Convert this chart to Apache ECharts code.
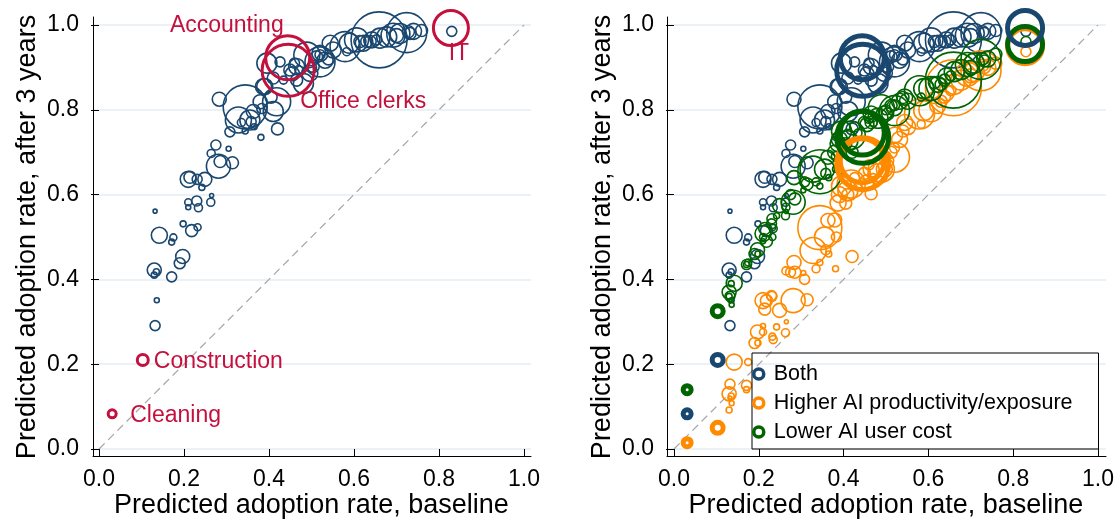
<!DOCTYPE html>
<html><head><meta charset="utf-8">
<script src="https://cdn.jsdelivr.net/npm/echarts@6/dist/echarts.min.js"></script>
<style>html,body{margin:0;padding:0;background:#fff}#c{width:1116px;height:519px}</style>
</head><body><div id="c"></div>
<script>
// ---- occupation-level data ----
const baseline = [0.132,0.136,0.171,0.130,0.135,0.130,0.190,0.197,0.142,0.175,0.171,0.218,0.232,0.198,0.132,0.230,0.234,0.210,0.210,0.263,0.265,0.210,0.214,0.231,0.249,0.242,0.281,0.285,0.314,0.264,0.275,0.305,0.381,0.283,0.344,0.355,0.358,0.365,0.308,0.344,0.420,0.379,0.383,0.410,0.418,0.405,0.390,0.328,0.363,0.335,0.395,0.426,0.387,0.449,0.465,0.489,0.481,0.512,0.520,0.532,0.504,0.496,0.465,0.434,0.460,0.470,0.500,0.455,0.520,0.540,0.410,0.579,0.583,0.589,0.614,0.630,0.642,0.659,0.661,0.692,0.724,0.732,0.759,0.551,0.520,0.544,0.606,0.622,0.638,0.653,0.677,0.708,0.728,0.830,0.700,0.740];
const weight   = [5,2.5,5,7,3,3,5.5,7,8,3.5,3,6,3.5,3,2,5,4,3.5,2.5,4,2,8,6,5,7,3,12,6,6,4,5,2.5,3,7,22,10,5,3,5,3,6,7,5,10,14,6,8,13,7,4,10,5,8,6,8,13,10,6,15,8,6,8,6,4,5,4,5,7,5,6,6,15,4,10,6,6,8,28,10,12,20,6,6,8,8,8,12,8,6,5,10,10,6,5,7,8];
const after3Both = [0.291,0.351,0.406,0.422,0.418,0.410,0.438,0.454,0.504,0.499,0.488,0.515,0.523,0.531,0.561,0.585,0.569,0.582,0.570,0.582,0.598,0.636,0.641,0.636,0.636,0.617,0.667,0.678,0.675,0.697,0.717,0.708,0.735,0.825,0.807,0.776,0.772,0.760,0.748,0.750,0.755,0.819,0.803,0.796,0.819,0.830,0.855,0.776,0.796,0.770,0.910,0.913,0.855,0.894,0.902,0.929,0.862,0.925,0.913,0.917,0.902,0.886,0.870,0.870,0.910,0.895,0.900,0.885,0.930,0.920,0.875,0.949,0.937,0.957,0.961,0.961,0.965,0.965,0.969,0.976,0.982,0.980,0.987,0.941,0.933,0.957,0.965,0.957,0.961,0.965,0.972,0.980,0.984,0.985,0.975,0.985];
const after3Cost = [0.36,0.34,0.435,0.37,0.39,0.36,0.46,0.47,0.391,0.44,0.435,0.49,0.50,0.46,0.35,0.531,0.52,0.50,0.49,0.55,0.56,0.508,0.52,0.543,0.574,0.55,0.582,0.59,0.625,0.57,0.60,0.61,0.66,0.64,0.654,0.66,0.65,0.64,0.63,0.62,0.70,0.70,0.69,0.727,0.74,0.72,0.73,0.66,0.688,0.63,0.75,0.76,0.72,0.77,0.79,0.805,0.78,0.81,0.798,0.82,0.79,0.79,0.77,0.745,0.78,0.77,0.80,0.765,0.81,0.829,0.74,0.845,0.83,0.85,0.864,0.86,0.88,0.87,0.89,0.907,0.919,0.915,0.931,0.82,0.805,0.83,0.85,0.86,0.87,0.88,0.895,0.91,0.92,0.961,0.90,0.92];
const after3Prod = [0.153,0.108,0.15,0.13,0.125,0.092,0.25,0.276,0.205,0.205,0.14,0.35,0.265,0.25,0.12,0.362,0.258,0.276,0.29,0.274,0.30,0.35,0.33,0.36,0.327,0.288,0.35,0.417,0.352,0.42,0.417,0.415,0.425,0.44,0.522,0.50,0.47,0.46,0.40,0.44,0.454,0.54,0.50,0.609,0.625,0.58,0.60,0.468,0.539,0.425,0.62,0.64,0.58,0.65,0.66,0.66,0.649,0.70,0.688,0.73,0.68,0.66,0.602,0.62,0.67,0.64,0.69,0.63,0.71,0.75,0.60,0.79,0.766,0.798,0.829,0.82,0.84,0.852,0.86,0.884,0.892,0.90,0.91,0.76,0.74,0.77,0.80,0.81,0.83,0.845,0.87,0.89,0.905,0.937,0.88,0.90];

// ---- highlighted occupations ----
const hlNames    = ['Cleaning','Construction','Accounting','Office clerks','IT'];
const hlBaseline = [0.031,0.103,0.444,0.445,0.828];
const hlWeight   = [4,5.5,22,26,17.5];
const hlBoth     = [0.083,0.21,0.923,0.893,0.993];
const hlCost     = [0.14,0.325,0.745,0.735,0.955];
const hlProd     = [0.015,0.05,0.68,0.673,0.95];

const diagonal = [0, 1];
const tickValues = [0, 0.2, 0.4, 0.6, 0.8, 1.0];
const legendNames = ['Both','Higher AI productivity/exposure','Lower AI user cost'];

// ---- styles ----
const FONT = "'Liberation Sans', Arial, Helvetica, sans-serif";
const NAVY = '#1a476f', ORANGE = '#ff8a00', GREEN = '#006400', RED = '#c3103d';
const GRIDC = '#e4edf0';
const labelPos = {
  'Accounting':   {align:'right', offset:[-4,-32]},
  'Office clerks':{align:'left',  offset:[12,31]},
  'IT':           {align:'center',offset:[8,26]},
  'Construction': {align:'left',  offset:[11,2]},
  'Cleaning':     {align:'left',  offset:[18,2]}
};

function pts(xs, ys, ws){ return xs.map((x,i)=>[x, ys[i], ws[i]]); }
const sizeFn = v => 2*v[2];

const panels = [
  {left:99, axisLeft:93, width:425, extra:438},
  {left:674, axisLeft:667, width:424, extra:439}
];
const TOP = 25, H = 424;

const grid = [], xAxis = [], yAxis = [];
panels.forEach((p) => {
  // data grid
  grid.push({left:p.left, top:TOP, width:p.width, height:H, outerBoundsMode:'none', containLabel:false});
  xAxis.push({gridIndex:grid.length-1, type:'value', min:0, max:1, interval:0.2, offset:7,
    axisLine:{show:false}, splitLine:{show:false},
    axisTick:{show:true, length:7, lineStyle:{color:'#000', width:1}},
    axisLabel:{fontSize:23, fontFamily:FONT, color:'#000', margin:12, formatter:v=>v.toFixed(1)},
    name:'Predicted adoption rate, baseline', nameLocation:'middle', nameGap:36, nameMoveOverlap:false,
    nameTextStyle:{fontSize:27, fontFamily:FONT, color:'#000'}});
  yAxis.push({gridIndex:grid.length-1, type:'value', min:0, max:1, interval:0.2, offset:6,
    axisLine:{show:false}, splitLine:{show:false},
    axisTick:{show:true, length:8, lineStyle:{color:'#000', width:1}},
    axisLabel:{fontSize:23, fontFamily:FONT, color:'#000', margin:14, formatter:v=>v.toFixed(1)},
    name:'Predicted adoption rate, after 3 years', nameLocation:'middle', nameGap:52,
    nameTextStyle:{fontSize:27, fontFamily:FONT, color:'#000'}});
  // gridline grid
  grid.push({left:p.axisLeft, top:TOP, width:p.extra, height:H, outerBoundsMode:'none', containLabel:false});
  xAxis.push({gridIndex:grid.length-1, type:'value', min:0, max:1, show:false});
  yAxis.push({gridIndex:grid.length-1, type:'value', min:0, max:1, interval:0.2,
    axisLine:{show:false}, axisTick:{show:false}, axisLabel:{show:false},
    splitLine:{show:true, lineStyle:{color:GRIDC, width:1.5}}});
  // frame grid (axis lines)
  grid.push({left:p.axisLeft, top:17, width:p.extra, height:439, outerBoundsMode:'none', containLabel:false});
  xAxis.push({gridIndex:grid.length-1, type:'value', min:0, max:1,
    axisLine:{show:true, lineStyle:{color:'#000', width:1}}, axisTick:{show:false}, axisLabel:{show:false}, splitLine:{show:false}});
  yAxis.push({gridIndex:grid.length-1, type:'value', min:0, max:1,
    axisLine:{show:true, lineStyle:{color:'#000', width:1}}, axisTick:{show:false}, axisLabel:{show:false}, splitLine:{show:false}});
});

function diagSeries(idx){
  return {type:'line', xAxisIndex:idx, yAxisIndex:idx, data:diagonal.map(v=>[v,v]), symbol:'none', silent:true,
    lineStyle:{color:'#a5a5a5', width:1.2, type:[8,5]}, z:1};
}
function bubbles(name, idx, ys, color, bw){
  return {type:'scatter', name, xAxisIndex:idx, yAxisIndex:idx, data:pts(baseline, ys, weight),
    symbol:'circle', symbolSize:sizeFn,
    itemStyle:{color:'rgba(0,0,0,0)', borderColor:color, borderWidth:bw, opacity:1}, z:3};
}
function highlight(name, idx, ys, color, bw, withLabels){
  const data = hlNames.map((n,i)=>{
    const item = {name:n, value:[hlBaseline[i], ys[i], hlWeight[i]]};
    if (withLabels) {
      const lp = labelPos[n];
      item.label = {show:true, formatter:n, position:['50%','50%'], align:lp.align, verticalAlign:'middle',
        offset:lp.offset, color:RED, fontSize:23, fontFamily:FONT, opacity:1};
    }
    return item;
  });
  return {type:'scatter', name, xAxisIndex:idx, yAxisIndex:idx, data, symbol:'circle', symbolSize:sizeFn,
    itemStyle:{color:'rgba(0,0,0,0)', borderColor:color, borderWidth:bw, opacity:1}, z:5};
}

const series = [
  diagSeries(0),
  bubbles('left-both', 0, after3Both, NAVY, 1.6),
  highlight('left-hl', 0, hlBoth, RED, 3, true),
  diagSeries(3),
  bubbles(legendNames[0], 3, after3Both, NAVY, 1.6),
  bubbles(legendNames[1], 3, after3Prod, ORANGE, 1.6),
  bubbles(legendNames[2], 3, after3Cost, GREEN, 1.6),
  highlight('hl-prod', 3, hlProd, ORANGE, 5, false),
  highlight('hl-cost', 3, hlCost, GREEN, 5, false),
  highlight('hl-both', 3, hlBoth, NAVY, 5, false)
];

const chart = echarts.init(document.getElementById('c'), null, {renderer:'canvas'});
chart.setOption({
  animation:false,
  backgroundColor:'#fff',
  grid, xAxis, yAxis, series,
  legend:{
    data:legendNames, orient:'vertical', left:752, top:353,
    borderColor:'#000', borderWidth:1, borderRadius:0, padding:[10,26,6,0],
    itemWidth:20, itemHeight:10, itemGap:7,
    itemStyle:{borderWidth:3.5, opacity:1},
    textStyle:{fontSize:21.5, fontFamily:FONT, color:'#000'},
    selectedMode:false
  }
});
</script></body></html>
